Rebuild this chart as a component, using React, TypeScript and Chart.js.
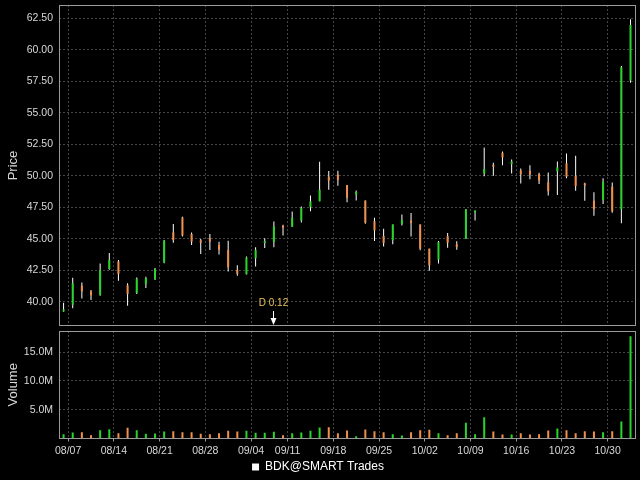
import React, { useEffect, useRef } from 'react';
import { Chart, registerables } from 'chart.js';
Chart.register(...registerables);

// ---- data ----
const YEAR = 2006;
const dates = [
  '08/04',
  '08/07', '08/08', '08/09', '08/10', '08/11',
  '08/14', '08/15', '08/16', '08/17', '08/18',
  '08/21', '08/22', '08/23', '08/24', '08/25',
  '08/28', '08/29', '08/30', '08/31', '09/01',
  '09/05', '09/06', '09/07', '09/08',
  '09/11', '09/12', '09/13', '09/14', '09/15',
  '09/18', '09/19', '09/20', '09/21', '09/22',
  '09/25', '09/26', '09/27', '09/28', '09/29',
  '10/02', '10/03', '10/04', '10/05', '10/06',
  '10/09', '10/10', '10/11', '10/12', '10/13',
  '10/16', '10/17', '10/18', '10/19', '10/20',
  '10/23', '10/24', '10/25', '10/26', '10/27',
  '10/30', '10/31', '11/01',
];
const opens = [
  39.23,
  39.76, 41.27, 40.82, 40.53, 42.59,
  43.20, 41.30, 40.69, 41.38, 41.80,
  43.11, 45.50, 46.68, 45.37, 44.87,
  45.03, 44.50, 44.11, 42.53, 42.18,
  43.45, 44.66, 44.74, 46.03,
  45.97, 46.45, 47.50, 47.97, 49.92,
  50.08, 49.26, 48.50, 48.03, 46.39,
  45.21, 44.87, 46.18, 46.45, 46.13,
  44.21, 43.34, 45.21, 44.55, 45.00,
  47.08, 50.18, 50.87, 51.82, 50.92,
  50.39, 50.39, 50.13, 49.47, 50.34,
  50.98, 50.00, 49.39, 48.02, 48.07,
  49.13, 47.33, 57.54,
];
const highs = [
  39.92,
  41.90, 41.53, 40.93, 43.04, 43.86,
  43.31, 41.46, 41.93, 41.98, 42.67,
  44.89, 46.16, 46.74, 45.50, 44.97,
  45.37, 44.76, 44.84, 42.89, 43.58,
  44.32, 45.03, 46.37, 46.11,
  47.16, 47.55, 48.42, 51.11, 50.37,
  50.39, 49.26, 48.82, 48.03, 46.66,
  45.79, 46.13, 46.92, 47.03, 46.13,
  44.21, 44.82, 45.45, 44.79, 47.35,
  47.24, 52.24, 51.03, 51.92, 51.29,
  50.58, 50.82, 50.24, 50.26, 51.13,
  51.77, 51.59, 49.44, 48.68, 49.79,
  49.47, 58.70, 62.41,
];
const lows = [
  39.21,
  39.47, 40.26, 40.13, 40.48, 42.54,
  41.67, 39.68, 40.61, 41.08, 41.72,
  43.05, 44.68, 45.18, 44.50, 43.79,
  44.11, 43.74, 42.39, 42.05, 42.16,
  42.79, 44.26, 44.32, 45.26,
  45.92, 46.29, 47.18, 47.97, 48.89,
  49.21, 47.89, 48.03, 46.18, 44.82,
  44.39, 44.55, 46.05, 45.18, 44.08,
  42.45, 43.03, 44.29, 44.13, 44.98,
  46.45, 49.95, 50.00, 50.82, 50.18,
  49.39, 49.71, 49.34, 48.42, 48.47,
  49.79, 48.81, 48.02, 46.83, 47.75,
  47.06, 46.22, 57.38,
];
const closes = [
  39.39,
  41.46, 40.82, 40.50, 42.51, 43.33,
  42.20, 40.61, 41.83, 41.88, 42.59,
  44.84, 44.89, 45.26, 44.76, 44.68,
  44.76, 44.11, 42.74, 42.21, 43.50,
  44.11, 44.82, 45.97, 45.87,
  46.66, 47.45, 47.97, 48.89, 49.61,
  49.66, 48.24, 48.71, 46.26, 45.66,
  44.66, 46.13, 46.50, 46.24, 44.21,
  42.89, 44.74, 44.68, 44.34, 47.32,
  47.24, 50.53, 50.71, 51.45, 51.13,
  50.13, 50.08, 49.61, 48.76, 50.66,
  49.92, 49.18, 49.23, 47.33, 49.52,
  47.17, 58.60, 61.96,
];
// volume in millions of shares
const volumesM = [
  0.75,
  1.04, 1.10, 0.58, 1.45, 1.62,
  0.93, 1.85, 1.45, 0.81, 0.87,
  1.20, 1.27, 1.10, 1.10, 0.81,
  0.75, 0.93, 1.33, 1.20, 1.33,
  0.98, 0.98, 1.16, 0.58,
  0.93, 1.04, 1.33, 1.90, 1.97,
  0.93, 1.39, 0.40, 1.56, 1.27,
  1.10, 0.75, 0.52, 1.10, 1.45,
  1.50, 0.93, 0.58, 0.93, 2.72,
  0.75, 3.70, 1.20, 0.69, 0.69,
  0.93, 0.69, 0.75, 1.39, 1.74,
  1.45, 0.93, 1.27, 1.20, 1.10,
  1.27, 2.95, 17.77,
];
const seriesName = 'BDK@SMART Trades';
const dividendDates = ['09/07'];
const dividendAmounts = [0.12];

// ---- styling ----
const FONT = "'Liberation Sans', Arial, sans-serif";
const UP = '#2ad42a';
const DOWN = '#f0904c';
const GRID = '#464646';
const FRAME = '#9a9a9a';
const TEXT = '#d8d8d8';
const DIV_TEXT = '#e6c35a';

Chart.defaults.font.family = FONT;

function mondayOf(d: string): Date {
  const [m, dd] = d.split('/').map(Number);
  const dt = new Date(YEAR, m - 1, dd);
  const wd = (dt.getDay() + 6) % 7;
  dt.setDate(dt.getDate() - wd);
  return dt;
}
const fmtMD = (dt: Date) =>
  String(dt.getMonth() + 1).padStart(2, '0') + '/' + String(dt.getDate()).padStart(2, '0');

const weekTicks: { value: number; label: string }[] = [];
for (let i = 1; i < dates.length; i++) {
  const a = mondayOf(dates[i]);
  const b = mondayOf(dates[i - 1]);
  if (a.getTime() !== b.getTime()) weekTicks.push({ value: i - 0.5, label: fmtMD(a) });
}

const barColors = opens.map((o, i) => (closes[i] >= o ? UP : DOWN));

const X_MIN = -0.5;
const X_MAX = dates.length - 0.4;

const noPad = (s: any) => {
  s.paddingTop = 0;
  s.paddingBottom = 0;
  s.paddingLeft = 0;
  s.paddingRight = 0;
};

function xScale(showLabels: boolean, height: number) {
  return {
    type: 'linear',
    min: X_MIN,
    max: X_MAX,
    offset: false,
    afterBuildTicks: (s: any) => {
      s.ticks = weekTicks.map((t) => ({ value: t.value }));
    },
    afterFit: (s: any) => {
      s.height = height;
      noPad(s);
    },
    ticks: {
      display: showLabels,
      autoSkip: false,
      maxRotation: 0,
      color: TEXT,
      font: { size: 10.5, family: FONT },
      padding: 3,
      callback: (v: number) => {
        const t = weekTicks.find((w) => Math.abs(w.value - v) < 1e-6);
        return t ? t.label : '';
      },
    },
    grid: { color: GRID, offset: false, drawTicks: showLabels, tickLength: 3, tickColor: FRAME },
    border: { display: false, dash: [2, 2] },
  };
}

const framePlugin = {
  id: 'frame',
  afterDraw(chart: any) {
    const { ctx, chartArea: a } = chart;
    ctx.save();
    ctx.strokeStyle = FRAME;
    ctx.lineWidth = 1;
    const l = Math.round(a.left) + 0.5;
    const t = Math.round(a.top) + 0.5;
    const r = Math.round(a.right) - 0.5;
    const b = Math.round(a.bottom) - 0.5;
    ctx.strokeRect(l, t, r - l, b - t);
    ctx.restore();
  },
};

const dividendPlugin = {
  id: 'dividends',
  afterDatasetsDraw(chart: any) {
    const { ctx, chartArea } = chart;
    const xs = chart.scales.x;
    ctx.save();
    dividendDates.forEach((d, k) => {
      const idx = dates.indexOf(d);
      if (idx < 0) return;
      const x = Math.round(xs.getPixelForValue(idx)) - 0.5;
      const bottom = Math.round(chartArea.bottom);
      ctx.fillStyle = DIV_TEXT;
      ctx.font = `10px ${FONT}`;
      ctx.textAlign = 'center';
      ctx.textBaseline = 'middle';
      ctx.fillText(`D ${dividendAmounts[k].toFixed(2)}`, x, bottom - 23);
      ctx.strokeStyle = '#ffffff';
      ctx.fillStyle = '#ffffff';
      ctx.lineWidth = 1;
      ctx.beginPath();
      ctx.moveTo(x, bottom - 15);
      ctx.lineTo(x, bottom - 7);
      ctx.stroke();
      ctx.beginPath();
      ctx.moveTo(x - 3, bottom - 8);
      ctx.lineTo(x + 3, bottom - 8);
      ctx.lineTo(x, bottom - 1);
      ctx.closePath();
      ctx.fill();
    });
    ctx.restore();
  },
};

export default function App() {
  const priceRef = useRef<HTMLCanvasElement>(null);
  const volRef = useRef<HTMLCanvasElement>(null);

  useEffect(() => {
    const priceChart = new Chart(priceRef.current as HTMLCanvasElement, {
      type: 'bar',
      data: {
        datasets: [
          {
            label: 'body',
            data: opens.map((o, i) => ({ x: i, y: [o, closes[i]] })) as any,
            backgroundColor: barColors,
            barThickness: 2,
            grouped: false,
            inflateAmount: 0,
            borderWidth: 0,
          } as any,
          {
            label: 'wick',
            data: lows.map((l, i) => ({ x: i, y: [l, highs[i]] })) as any,
            backgroundColor: '#ffffff',
            barThickness: 1,
            grouped: false,
            inflateAmount: 0,
            borderWidth: 0,
          } as any,
        ],
      },
      options: {
        responsive: false,
        animation: false,
        events: [],
        layout: { padding: { left: 0, top: 5, right: 4, bottom: 4 } },
        plugins: { legend: { display: false }, tooltip: { enabled: false } },
        scales: {
          x: xScale(false, 0) as any,
          y: {
            type: 'linear',
            min: 38.071,
            max: 63.548,
            afterFit: (s: any) => {
              s.width = 59;
              noPad(s);
            },
            ticks: {
              stepSize: 2.5,
              includeBounds: false,
              color: TEXT,
              font: { size: 10.5, family: FONT },
              padding: 6,
              callback: (v: any) => Number(v).toFixed(2),
            },
            grid: { color: GRID, drawTicks: false },
            border: { display: false, dash: [2, 2] },
            title: {
              display: true,
              text: 'Price',
              color: TEXT,
              font: { size: 13, family: FONT },
              padding: { top: 6, bottom: 0 },
            },
          } as any,
        },
      },
      plugins: [framePlugin, dividendPlugin],
    });

    const volChart = new Chart(volRef.current as HTMLCanvasElement, {
      type: 'bar',
      data: {
        datasets: [
          {
            label: seriesName,
            data: volumesM.map((v, i) => ({ x: i, y: v })) as any,
            backgroundColor: barColors,
            barThickness: 2,
            grouped: false,
            inflateAmount: 0,
            borderWidth: 0,
          } as any,
        ],
      },
      options: {
        responsive: false,
        animation: false,
        events: [],
        layout: { padding: { left: 0, top: 1, right: 4, bottom: 0 } },
        plugins: {
          tooltip: { enabled: false },
          legend: {
            display: true,
            position: 'bottom',
            labels: {
              color: '#ffffff',
              boxWidth: 7,
              boxHeight: 7,
              padding: 2,
              font: { size: 12, family: FONT },
              generateLabels: () => [
                {
                  text: seriesName,
                  fillStyle: '#ffffff',
                  strokeStyle: '#ffffff',
                  lineWidth: 0,
                  hidden: false,
                  datasetIndex: 0,
                  fontColor: '#ffffff',
                } as any,
              ],
            },
          },
        },
        scales: {
          x: xScale(true, 20.5) as any,
          y: {
            type: 'linear',
            min: 0,
            max: 18.66,
            afterFit: (s: any) => {
              s.width = 59;
              noPad(s);
            },
            ticks: {
              stepSize: 5,
              includeBounds: false,
              color: TEXT,
              font: { size: 10.5, family: FONT },
              padding: 6,
              callback: (v: any) => (Number(v) === 0 ? '' : Number(v).toFixed(1) + 'M'),
            },
            grid: { color: GRID, drawTicks: false },
            border: { display: false, dash: [2, 2] },
            title: {
              display: true,
              text: 'Volume',
              color: TEXT,
              font: { size: 13, family: FONT },
              padding: { top: 6, bottom: 0 },
            },
          } as any,
        },
      },
      plugins: [framePlugin],
    });

    return () => {
      priceChart.destroy();
      volChart.destroy();
    };
  }, []);

  return (
    <div
      style={{
        position: 'fixed',
        left: 0,
        top: 0,
        width: 640,
        height: 480,
        background: '#000',
        overflow: 'hidden',
      }}
    >
      <canvas ref={priceRef} width={640} height={330} style={{ position: 'absolute', left: 0, top: 0 }} />
      <canvas ref={volRef} width={640} height={153} style={{ position: 'absolute', left: 0, top: 330 }} />
    </div>
  );
}
